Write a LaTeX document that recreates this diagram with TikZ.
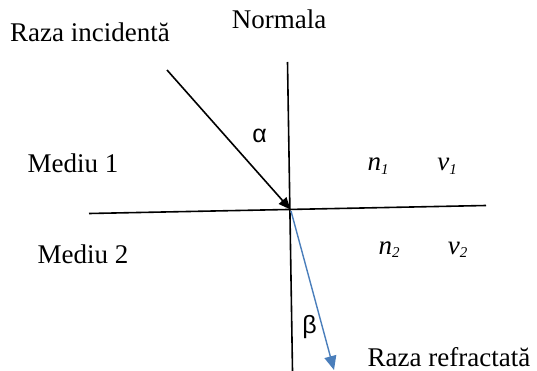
\documentclass[tikz,border=0pt]{standalone}
\usepackage{fontspec}
\setmainfont{Liberation Serif}
\newfontfamily\greekfont{Liberation Sans}
\usetikzlibrary{arrows.meta}
\definecolor{rayblue}{HTML}{4A7EBB}
\newcommand{\subidx}[1]{\raisebox{-3.5pt}{\fontsize{15}{16}\selectfont\itshape #1}}
\tikzset{
  lbl/.style={anchor=base, inner sep=0pt, font=\fontsize{27}{30}\selectfont},
  glbl/.style={anchor=base, inner sep=0pt, font=\greekfont\fontsize{25}{30}\selectfont},
  axisline/.style={line width=1.6pt, black},
  incray/.style={line width=1.6pt, black, -{Triangle[length=12pt,width=10pt]}},
  refray/.style={line width=1.4pt, rayblue, -{Triangle[length=14pt,width=12pt]}},
}
\begin{document}
\begin{tikzpicture}[x=1pt,y=-1pt]
\useasboundingbox (0,0) rectangle (537,371);
% line endpoints
\coordinate (nt) at (287.5,62);
\coordinate (nb) at (292.5,371);
\coordinate (hl) at (89,213.5);
\coordinate (hr) at (486,205.5);
\coordinate (is) at (167,70);
\coordinate (o) at (290.5,209.5);
\coordinate (os) at (291,211);
\coordinate (re) at (334,370);
% lines
\draw[axisline] (nt) -- (nb);
\draw[axisline] (hl) -- (hr);
\draw[incray] (is) -- (o);
\draw[refray] (os) -- (re);
% labels
\node[lbl] (ri) at (90,42) {Raza incidentă};
\node[lbl] (nm) at (279,29) {Normala};
\node[lbl] (m1) at (73,173) {Mediu 1};
\node[lbl] (m2) at (83,263) {Mediu 2};
\node[lbl] (rr) at (449,366) {Raza refractată};
\node[glbl] (al) at (259.5,143) {α};
\node[glbl] (be) at (309.5,333) {β};
\node[lbl] (n1) at (378,171) {\textit{n}\subidx{1}};
\node[lbl] (v1) at (447,171) {\textit{v}\subidx{1}};
\node[lbl] (n2) at (389,254) {\textit{n}\subidx{2}};
\node[lbl] (v2) at (457.5,254) {\textit{v}\subidx{2}};
\end{tikzpicture}
\end{document}
